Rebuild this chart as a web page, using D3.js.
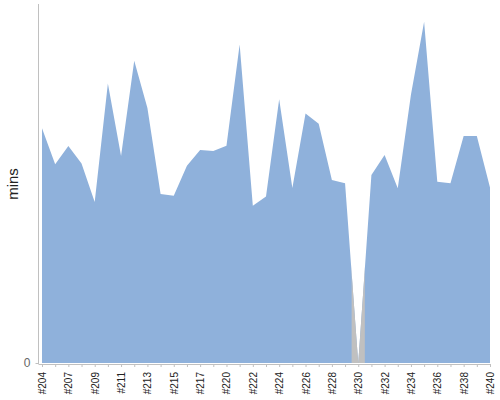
<!DOCTYPE html>
<html>
<head>
<meta charset="utf-8">
<script src="https://cdn.jsdelivr.net/npm/d3@7"></script>
<style>
  body { margin: 0; background: #fff; }
  text { font-family: "Liberation Sans", Arial, sans-serif; }
</style>
</head>
<body>
<script>
// build numbers on the x axis
var builds = ["#204","#205","#207","#208","#209","#210","#211","#212","#213","#214",
              "#215","#216","#217","#218","#220","#221","#222","#223","#224","#225",
              "#226","#227","#228","#229","#230","#231","#232","#233","#234","#235",
              "#236","#237","#238","#239","#240"]

// duration of each build
var mins = [65.6, 55.5, 60.6, 55.7, 45.0, 78.1, 57.8, 84.4, 71.2, 47.2,
            46.7, 55.1, 59.5, 59.2, 60.7, 89.0, 43.9, 46.5, 73.7, 48.9,
            69.7, 66.8, 51.1, 50.2, 0, 52.5, 58.1, 48.8, 74.9, 95.3,
            50.6, 50.2, 63.4, 63.4, 49.0]

// builds shown in gray
var failed = ["#230"]

// only every other build gets a label
var tickLabels = builds.filter((d, i) => i % 2 === 0)
var yTicks = [0]

var w = 500
var h = 400

var svg = d3.select("body")
            .append("svg")
            .attr("width", w)
            .attr("height", h)

const xScale = d3.scalePoint()
    .domain(builds)
    .range([42, 490])

const yScale = d3.scaleLinear()
    .domain([0, 100])
    .range([363, 5])

var step = xScale.step()

var area = d3.area()
    .x(d => xScale(d[0]))
    .y0(yScale(0))
    .y1(d => yScale(d[1]))

var rows = builds.map((b, i) => [b, mins[i]])

// main area
svg.append("path")
    .datum(rows)
    .attr("fill", "#8fb1db")
    .attr("d", area)

// gray part around the failed builds
var defs = svg.append("defs")
failed.forEach((b, i) => {
    defs.append("clipPath")
        .attr("id", "clip" + i)
        .append("rect")
        .attr("x", xScale(b) - step / 2)
        .attr("y", 0)
        .attr("width", step)
        .attr("height", h)

    svg.append("path")
        .datum(rows)
        .attr("fill", "#c0c0c0")
        .attr("clip-path", "url(#clip" + i + ")")
        .attr("d", area)
})

// x axis
const xAxis = d3.axisBottom(xScale)
    .tickValues(builds)
    .tickSize(3)
    .tickSizeOuter(0)
    .tickFormat(d => tickLabels.includes(d) ? d : "")

var gx = svg.append("g")
    .attr("id", "x-axis")
    .attr("transform", "translate(0, 364)")
    .call(xAxis)

gx.select(".domain")
    .attr("d", "M38.5,0.5H490")
    .attr("stroke", "#c0c0c0")
gx.selectAll(".tick line").attr("stroke", "#c0c0c0")
gx.selectAll(".tick text")
    .attr("transform", "rotate(-90)")
    .attr("text-anchor", "end")
    .attr("x", -8)
    .attr("y", 0)
    .attr("dy", "0.35em")
    .attr("font-size", 10)
    .attr("fill", "#222")

// y axis
const yAxis = d3.axisLeft(yScale)
    .tickValues(yTicks)
    .tickSize(3)
    .tickSizeOuter(0)

var gy = svg.append("g")
    .attr("id", "y-axis")
    .attr("transform", "translate(38.5, 0)")
    .call(yAxis)

gy.select(".domain").attr("stroke", "#c0c0c0").attr("d", "M0,4V364")
gy.selectAll(".tick line").attr("stroke", "#c0c0c0")
gy.selectAll(".tick text")
    .attr("x", -8)
    .attr("font-size", 12)
    .attr("fill", "#666")

// y axis title
svg.append("text")
    .attr("transform", "translate(18, 184) rotate(-90)")
    .attr("text-anchor", "middle")
    .attr("font-size", 15)
    .attr("fill", "#222")
    .text("mins")
</script>
</body>
</html>
